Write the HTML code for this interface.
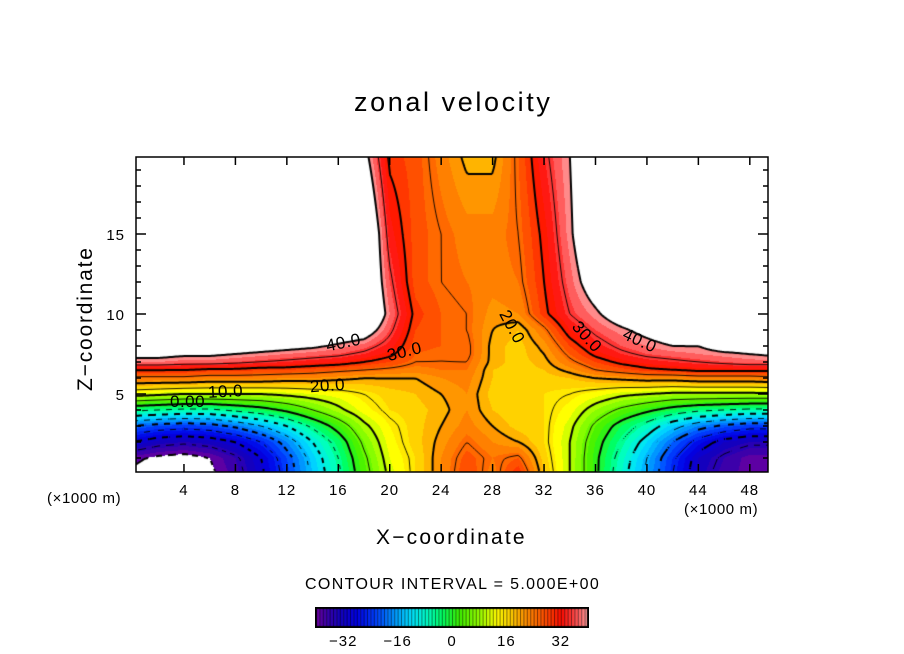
<!DOCTYPE html>
<html><head><meta charset="utf-8">
<style>
html,body{margin:0;padding:0;background:#fff;}
#root{position:relative;width:904px;height:654px;overflow:hidden;font-family:"Liberation Sans",sans-serif;color:#000;}
.t{position:absolute;white-space:nowrap;}
canvas{position:absolute;}
</style></head>
<body>
<div id="root">
<div class="t" style="left:354px;top:87px;font-size:27px;letter-spacing:2.6px;">zonal velocity</div>
<canvas id="plot" width="632" height="315" style="left:136px;top:157px;"></canvas>
<svg id="axes" width="904" height="654" style="position:absolute;left:0;top:0;"></svg>
<div class="t" style="left:9px;top:302px;font-size:21px;letter-spacing:1.8px;transform:rotate(-90deg);transform-origin:77px 12px;width:154px;">Z−coordinate</div>
<div class="t" style="left:376px;top:526px;font-size:21px;letter-spacing:2.2px;">X−coordinate</div>
<div class="t" style="left:47px;top:490px;font-size:15px;letter-spacing:0.6px;">(×1000 m)</div>
<div class="t" style="left:684px;top:501px;font-size:15px;letter-spacing:0.6px;">(×1000 m)</div>
<div class="t" style="left:305px;top:576px;font-size:16px;letter-spacing:1.35px;">CONTOUR INTERVAL = 5.000E+00</div>
<canvas id="cbar" width="274" height="21" style="left:315px;top:607px;"></canvas>
<div id="labels"></div>
</div>
<script>
// ---- data: grid coordinates (x in 1000 m, z in 1000 m) and field values ----
const xs = [0,2,4,6,8,10,12,14,16,18,20,22,24,26,28,30,32,34,36,38,40,42,44,46,48,50];
const zs = [0,1,2,3,4,5,6,6.5,7,7.5,8,9,10,12,15,20];
const u_z0   = [-41,-42,-43,-41,-37,-31,-23,-14,-6,3,11,16,22,28,23,30,18,10,1,-8,-16,-25,-33,-37,-39,-40];
const u_z1   = [-39,-41,-42,-40,-36,-30,-22,-13,-5,4,12,16,22,27,24,26,17,10,1,-7,-15,-24,-32,-36,-39,-39];
const u_z2   = [-30,-33,-34,-33,-30,-25,-18,-10,-3,6,13,17,21,25,22,20,16,10,2,-5,-12,-20,-27,-32,-34,-34];
const u_z3   = [-20,-22,-23,-22,-19,-15,-10,-4,2,9,14,17,20,23,20,17,16,11,4,-2,-7,-13,-18,-21,-23,-23];
const u_z4   = [-4,-5,-6,-6,-4,-2,1,5,9,13,16,17,19,22,18,16,16,13,8,4,1,-2,-4,-5,-6,-6];
const u_z5   = [12,11,10,10,10,10,11,12,13,15,17,18,20,22,17,16,16,15,13,11,10,9,9,9,9,9];
const u_z6   = [24,24,24,23,23,23,22,22,21,20,20,20,22,23,18,16,17,18,20,21,22,22,23,23,23,24];
const u_z6h  = [30,30,30,29,29,28,28,27,26,25,24,23,24,24,18,17,18,21,25,27,29,30,31,31,31,31];
const u_z7   = [38,38,37,37,36,35,34,33,32,30,28,25,25,25,19,17,19,24,28,31,33,34,35,36,37,37];
const u_z7h  = [42,42,41,41,40,39,38,37,36,34,31,26,25,26,19,17,20,26,31,34,36,37,38,39,40,41];
const u_z8   = [45,45,45,45,44,43,42,41,39,37,33,27,26,26,19,17,21,28,33,36,38,40,40,43,44,44];
const u_z9   = [50,50,50,50,50,50,50,50,46,44,36,28,26,25,20,18,24,32,36,39,42,45,48,50,50,50];
const u_z10  = [50,50,50,50,50,50,50,50,50,50,38,29,26,25,21,22,29,35,39,44,48,50,50,50,50,50];
const u_z12  = [50,50,50,50,50,50,50,50,50,49,36,27,25,24,23,24,30,37,44,50,50,50,50,50,50,50];
const u_z15  = [50,50,50,50,50,50,50,50,50,50,33,27,25,23,23,25,31,39,48,50,50,50,50,50,50,50];
const u_z20  = [50,50,50,50,50,50,50,50,50,42,29,27,23,19,19,26,34,40,48,50,50,50,50,50,50,50];
const xTicks = [4,8,12,16,20,24,28,32,36,40,44,48];
const zTicks = [5,10,15];
const cbTicks = [-32,-16,0,16,32];
const levels = [-40,-35,-30,-25,-20,-15,-10,-5,0,5,10,15,20,25,30,35,40];

const rows = [u_z0,u_z1,u_z2,u_z3,u_z4,u_z5,u_z6,u_z6h,u_z7,u_z7h,u_z8,u_z9,u_z10,u_z12,u_z15,u_z20];

// ---- axis functions ----
const PX0=136, PY0=157, PW=632, PH=315;
const xMin=0.27, xMax=0.27+PW/12.86;
const zMin=0.125, zMax=0.125+PH/16;
const X = v => PX0 + (v-xMin)/(xMax-xMin)*PW;
const Z = v => PY0 + PH - (v-zMin)/(zMax-zMin)*PH;

function idx(arr,v){let i=0;while(i<arr.length-2&&v>arr[i+1])i++;let t=(v-arr[i])/(arr[i+1]-arr[i]);t=Math.max(0,Math.min(1,t));return [i,t];}
function field(x,z){const [i,tx]=idx(xs,x);const [j,tz]=idx(zs,z);
  const a=rows[j][i],b=rows[j][i+1],c=rows[j+1][i],d=rows[j+1][i+1];
  return (a*(1-tx)+b*tx)*(1-tz)+(c*(1-tx)+d*tx)*tz;}

const stops=[[-40,[110,0,160]],[-37,[60,0,170]],[-33,[20,0,190]],[-28,[0,0,230]],[-22,[0,70,255]],[-17,[0,150,255]],[-12,[0,225,255]],[-7,[0,255,190]],[-3,[0,255,100]],[2,[60,240,0]],[8,[150,255,0]],[13,[255,255,0]],[17,[255,210,0]],[21,[255,150,0]],[25,[255,105,0]],[29,[255,55,0]],[32,[255,10,0]],[36,[255,70,70]],[40,[255,160,160]]];
function cmap(v){if(v>40||v<-40)return [255,255,255];
  for(let k=0;k<stops.length-1;k++){if(v<=stops[k+1][0]){const t=(v-stops[k][0])/(stops[k+1][0]-stops[k][0]);
    return stops[k][1].map((c,m)=>Math.round(c+(stops[k+1][1][m]-c)*t));}}
  return stops[stops.length-1][1];}

// ---- fill ----
const cv=document.getElementById('plot'),ctx=cv.getContext('2d');
const img=ctx.createImageData(PW,PH);
const S=2,NX=Math.floor(PW/S)+1,NZ=Math.floor(PH/S)+1,grid=[];
function valAt(px,py){const x=xMin+px/PW*(xMax-xMin);const z=zMin+(PH-py)/PH*(zMax-zMin);return field(x,z);}
for(let py=0;py<PH;py++)for(let px=0;px<PW;px++){
  const v=valAt(px+0.5,py+0.5);const q=Math.floor(v/2)*2+1;
  const c=(v>40||v<-40)?[255,255,255]:cmap(q);const o=(py*PW+px)*4;
  img.data[o]=c[0];img.data[o+1]=c[1];img.data[o+2]=c[2];img.data[o+3]=255;}
ctx.putImageData(img,0,0);
for(let j=0;j<NZ;j++){grid.push([]);for(let i=0;i<NX;i++)grid[j].push(valAt(i*S,j*S));}
// ---- contours (marching squares) ----
levels.forEach(L=>{
  const thick=(L%10===0);ctx.strokeStyle='#000';ctx.lineWidth=thick?2:0.9;
  ctx.beginPath();
  for(let j=0;j<NZ-1;j++)for(let i=0;i<NX-1;i++){
    const c=[[i,j,grid[j][i]],[i+1,j,grid[j][i+1]],[i+1,j+1,grid[j+1][i+1]],[i,j+1,grid[j+1][i]]];
    const pts=[];
    for(let e=0;e<4;e++){const p=c[e],q=c[(e+1)%4];
      if((p[2]<L)!==(q[2]<L)){const t=(L-p[2])/(q[2]-p[2]);pts.push([(p[0]+(q[0]-p[0])*t)*S,(p[1]+(q[1]-p[1])*t)*S]);}}
    if(L<0 && Math.floor((i+j)/3)%2===0)continue;
    for(let k=0;k+1<pts.length;k+=2){ctx.moveTo(pts[k][0],pts[k][1]);ctx.lineTo(pts[k+1][0],pts[k+1][1]);}
  }
  ctx.stroke();
});

// ---- axes ----
const svg=document.getElementById('axes'),NS='http://www.w3.org/2000/svg';
function el(tag,attrs){const e=document.createElementNS(NS,tag);for(const k in attrs)e.setAttribute(k,attrs[k]);svg.appendChild(e);return e;}
const frame=el('rect',{x:PX0,y:PY0,width:PW,height:PH,fill:'none',stroke:'#000','stroke-width':1.5});


xTicks.forEach(v=>{
  const t1=el('line',{x1:X(v),x2:X(v),y1:PY0,y2:PY0+8,stroke:'#000','stroke-width':1.5});
  
  
  const t2=el('line',{x1:X(v),x2:X(v),y1:PY0+PH,y2:PY0+PH-8,stroke:'#000','stroke-width':1.5});
  
  
  const tx=el('text',{x:X(v),y:495,'text-anchor':'middle','font-size':15,'font-family':'Liberation Sans','letter-spacing':1});
  tx.textContent=v;
  
  
});
for(let v=1;v<=19;v++){
  const major=zTicks.indexOf(v)>=0,len=major?10:5;
  const a=el('line',{x1:PX0,x2:PX0+len,y1:Z(v),y2:Z(v),stroke:'#000','stroke-width':1.5});
  
  
  const b=el('line',{x1:PX0+PW,x2:PX0+PW-len,y1:Z(v),y2:Z(v),stroke:'#000','stroke-width':1.5});
  
  
}
zTicks.forEach(v=>{
  const tx=el('text',{x:125,y:Z(v)+6,'text-anchor':'end','font-size':15,'font-family':'Liberation Sans','letter-spacing':1});
  tx.textContent=v;
  
  
});
// ---- colorbar ----
const cb=document.getElementById('cbar'),cc=cb.getContext('2d');
const CBW=272,cbX=v=>1+(v+40)/80*CBW;
for(let v=-40;v<40;v+=1){const c=cmap(v+0.5);cc.fillStyle=`rgb(${c[0]},${c[1]},${c[2]})`;cc.fillRect(cbX(v),1,cbX(v+1)-cbX(v)+0.5,19);
  cc.fillStyle='rgba(0,0,0,0.55)';cc.fillRect(cbX(v),1,1,19);}
cc.strokeStyle='#000';cc.lineWidth=2;cc.strokeRect(1,1,CBW,19);
cbTicks.forEach(v=>{
  const tx=el('text',{x:315+cbX(v),y:646,'text-anchor':'middle','font-size':15,'font-family':'Liberation Sans','letter-spacing':1});
  tx.textContent=(v<0?'−'+(-v):v);
  
  
});
// ---- contour labels ----
const labs=[['40.0',344,343,-12],['30.0',405,352,-14],['20.0',328,386,-4],['10.0',226,392,-3],['0.00',188,402,0],['20.0',512,327,62],['30.0',587,337,48],['40.0',640,341,25]];
const lc=document.getElementById('labels');
labs.forEach(l=>{const d=document.createElement('div');d.className='t';d.textContent=l[0];
  
  
  d.style.cssText=`left:${l[1]-18}px;top:${l[2]-10}px;font-size:17px;letter-spacing:0.5px;transform:rotate(${l[3]}deg);`;lc.appendChild(d);});
</script>
</body></html>
